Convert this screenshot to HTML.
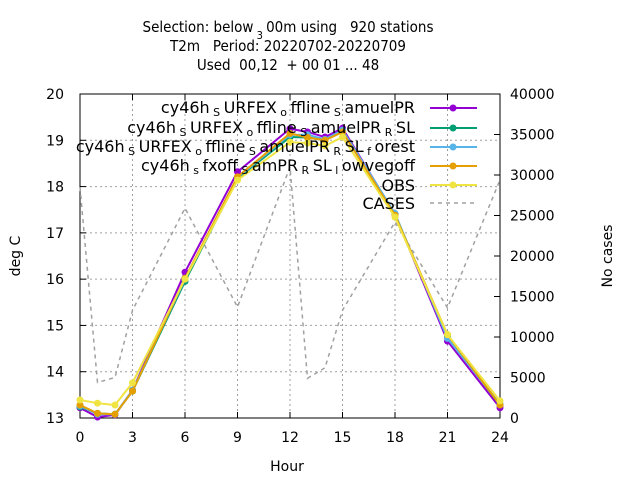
<!DOCTYPE html>
<html><head><meta charset="utf-8"><style>
body{margin:0;background:#fff}
svg{display:block;font-family:"DejaVu Sans","Liberation Sans",sans-serif}
.sub{font-size:11px}
</style></head><body>
<svg id="chart" width="640" height="480" viewBox="0 0 640 480">
<g font-size="15" text-anchor="middle" fill="#000" style="font-family:'DejaVu Sans Condensed','DejaVu Sans',sans-serif">
<text x="288" y="32" xml:space="preserve">Selection: below<tspan class="sub" baseline-shift="sub"> 3 </tspan>00m using   920 stations</text>
<text x="288" y="51" xml:space="preserve">T2m   Period: 20220702-20220709</text>
<text x="288" y="70" xml:space="preserve">Used  00,12  + 00 01 ... 48</text>
</g>
<g id="grid"></g>
<g id="axes"></g>
<g id="series"></g>
<g id="legend" font-size="16" text-anchor="end">
<text x="415" y="113" xml:space="preserve">cy46h<tspan class="sub" baseline-shift="-3"> S </tspan>URFEX<tspan class="sub" baseline-shift="-3"> o </tspan>ffline<tspan class="sub" baseline-shift="-3"> S </tspan>amuelPR</text>
<text x="415" y="133" xml:space="preserve">cy46h<tspan class="sub" baseline-shift="-3"> S </tspan>URFEX<tspan class="sub" baseline-shift="-3"> o </tspan>ffline<tspan class="sub" baseline-shift="-3"> S </tspan>amuelPR<tspan class="sub" baseline-shift="-3"> R </tspan>SL</text>
<text x="415" y="152" xml:space="preserve">cy46h<tspan class="sub" baseline-shift="-3"> S </tspan>URFEX<tspan class="sub" baseline-shift="-3"> o </tspan>ffline<tspan class="sub" baseline-shift="-3"> S </tspan>amuelPR<tspan class="sub" baseline-shift="-3"> R </tspan>SL<tspan class="sub" baseline-shift="-3"> f </tspan>orest</text>
<text x="415" y="171" xml:space="preserve">cy46h<tspan class="sub" baseline-shift="-3"> s </tspan>fxoff<tspan class="sub" baseline-shift="-3"> S </tspan>amPR<tspan class="sub" baseline-shift="-3"> R </tspan>SL<tspan class="sub" baseline-shift="-3"> l </tspan>owvegoff</text>
<text x="415" y="191">OBS</text>
<text x="415" y="209">CASES</text>
</g>
<text x="20" y="256" font-size="14" text-anchor="middle" transform="rotate(-90 20 256)">deg C</text>
<text x="612" y="256" font-size="14" text-anchor="middle" transform="rotate(-90 612 256)">No cases</text>
<text x="287" y="471" font-size="14" text-anchor="middle">Hour</text>
</svg>
<script>
const hours=[0,1,2,3,6,9,12,13,14,15,18,21,24];
const purple=[13.22,13.02,13.07,13.6,16.15,18.32,19.25,19.18,19.07,19.26,17.4,14.66,13.22];
const green=[13.24,13.1,13.08,13.58,15.95,18.18,19.07,19.06,19.0,19.2,17.4,14.75,13.28];
const blue=[13.26,13.08,13.08,13.6,16.0,18.2,19.12,19.12,19.02,19.22,17.42,14.72,13.3];
const orange=[13.28,13.1,13.08,13.58,16.02,18.21,19.15,19.06,19.0,19.18,17.38,14.8,13.28];
const obs=[13.39,13.32,13.28,13.76,16.0,18.14,18.96,18.94,18.88,19.07,17.34,14.8,13.37];
const cases=[28500,4400,5000,13300,25900,13700,31000,4900,6200,13300,24200,13600,29400];
const xTicks=[0,3,6,9,12,15,18,21,24];
const yTicks=[13,14,15,16,17,18,19,20];
const y2Ticks=[0,5000,10000,15000,20000,25000,30000,35000,40000];
const X0=80,X1=500,YT=94,YB=418;
const sx=h=>X0+(h-0)/24*(X1-X0);
const sy=v=>YB-(v-13)/7*(YB-YT);
const sy2=c=>YB-c/40000*(YB-YT);
const NS="http://www.w3.org/2000/svg";
function mk(tag,attrs,parent){const e=document.createElementNS(NS,tag);for(const k in attrs)e.setAttribute(k,attrs[k]);parent.appendChild(e);return e;}
const grid=document.getElementById('grid'),axes=document.getElementById('axes'),ser=document.getElementById('series'),leg=document.getElementById('legend');
xTicks.forEach(t=>{const x=sx(t);
 if(t>0&&t<24){const l=mk('line',{x1:x,x2:x,y1:YT,y2:YB,stroke:'#a0a0a0','stroke-dasharray':'2,3'},grid);}
 mk('line',{x1:x,x2:x,y1:YB,y2:YB-6,stroke:'#000'},axes);mk('line',{x1:x,x2:x,y1:YT,y2:YT+6,stroke:'#000'},axes);
 const tx=mk('text',{x:x,y:YB+24,'font-size':14,'text-anchor':'middle'},axes);tx.textContent=t;
 });
yTicks.forEach(t=>{const y=sy(t);
 if(t>13&&t<20){const l=mk('line',{x1:X0,x2:X1,y1:y,y2:y,stroke:'#a0a0a0','stroke-dasharray':'2,3'},grid);}
 mk('line',{x1:X0,x2:X0+6,y1:y,y2:y,stroke:'#000'},axes);
 const tx=mk('text',{x:64,y:y+5,'font-size':14,'text-anchor':'end'},axes);tx.textContent=t;
 });
y2Ticks.forEach(t=>{const y=sy2(t);
 mk('line',{x1:X1,x2:X1-6,y1:y,y2:y,stroke:'#000'},axes);
 const tx=mk('text',{x:510,y:y+5,'font-size':14,'text-anchor':'start'},axes);tx.textContent=t;
 });
const fr=mk('rect',{x:X0,y:YT,width:X1-X0,height:YB-YT,fill:'none',stroke:'#000'},axes);

const cp=mk('polyline',{points:hours.map((h,i)=>sx(h)+','+sy2(cases[i])).join(' '),fill:'none',stroke:'#a0a0a0','stroke-width':1.5,'stroke-dasharray':'4,4'},ser);

const defs=[[purple,'#9400d3','purple-series'],[green,'#009e73','green-series'],[blue,'#56b4e9','blue-series'],[orange,'#e69f00','orange-series'],[obs,'#f0e442','obs-series']];
defs.forEach(([d,c,n])=>{const g=mk('g',{},ser);
 mk('polyline',{points:hours.map((h,i)=>sx(h)+','+sy(d[i])).join(' '),fill:'none',stroke:c,'stroke-width':2},g);
 hours.forEach((h,i)=>{const p=mk('circle',{cx:sx(h),cy:sy(d[i]),r:3.5,fill:c},g);});});
const legColors=['#9400d3','#009e73','#56b4e9','#e69f00','#f0e442','#a0a0a0'];
const legY=[108,128,147,166,185,203];
legColors.forEach((c,i)=>{const g=mk('g',{},leg);
 if(i<5){mk('line',{x1:430,x2:477,y1:legY[i],y2:legY[i],stroke:c,'stroke-width':2},g);mk('circle',{cx:453,cy:legY[i],r:3.5,fill:c},g);}
 else mk('line',{x1:430,x2:477,y1:legY[i],y2:legY[i],stroke:c,'stroke-width':1.5,'stroke-dasharray':'4,4'},g);});
</script>
</body></html>
